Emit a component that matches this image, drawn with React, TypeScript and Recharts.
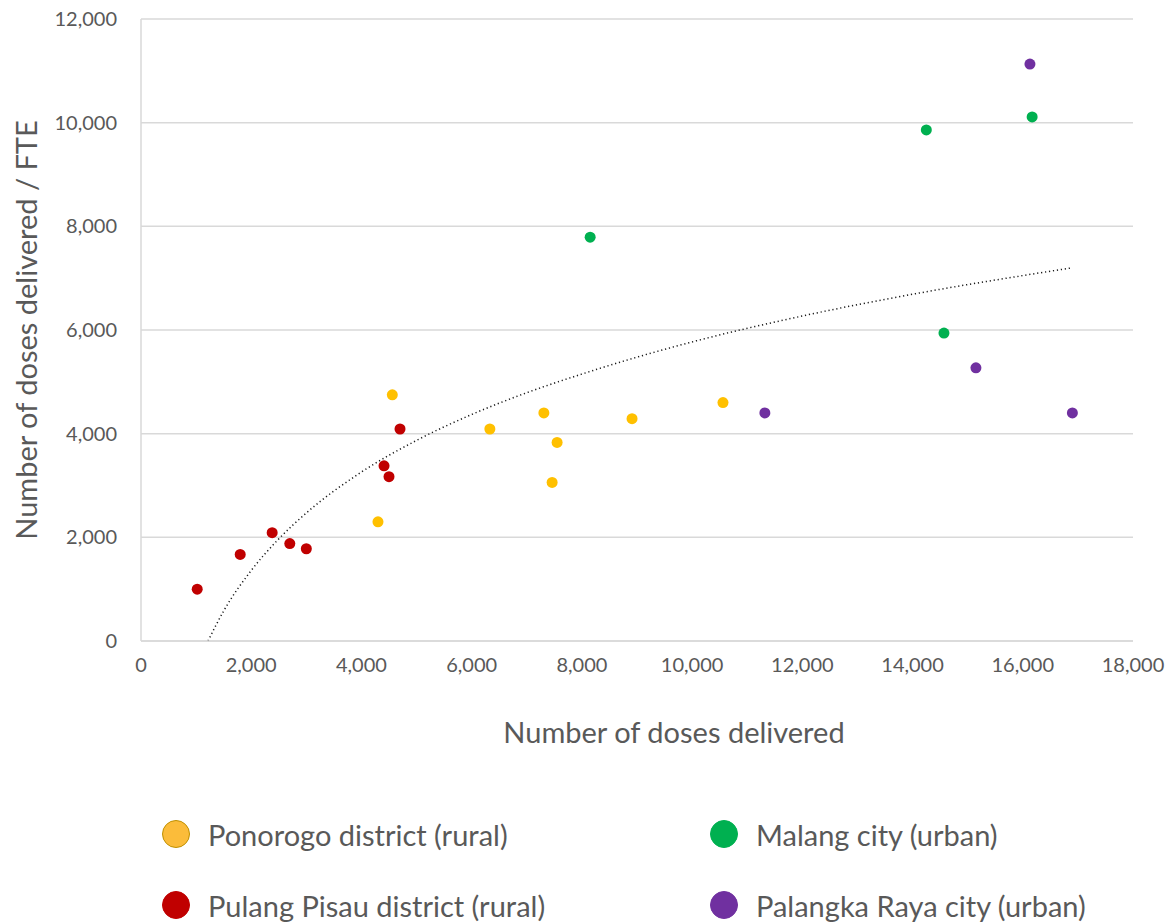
import {
  ComposedChart,
  CartesianGrid,
  Line,
  Scatter,
  XAxis,
  YAxis,
  Label,
} from "recharts";

const FONT = "Lato, 'Open Sans', sans-serif";
const TEXT = "#595959";

const xTicks = [0, 2000, 4000, 6000, 8000, 10000, 12000, 14000, 16000, 18000];
const yTicks = [0, 2000, 4000, 6000, 8000, 10000, 12000];

// doses delivered, doses delivered per FTE
const ponorogo = [
  { x: 4300, y: 2300 },
  { x: 4560, y: 4750 },
  { x: 6330, y: 4090 },
  { x: 7310, y: 4400 },
  { x: 7550, y: 3830 },
  { x: 7460, y: 3060 },
  { x: 8910, y: 4290 },
  { x: 10560, y: 4600 },
];

const pulangPisau = [
  { x: 1020, y: 1000 },
  { x: 1800, y: 1670 },
  { x: 2380, y: 2090 },
  { x: 2700, y: 1880 },
  { x: 3000, y: 1780 },
  { x: 4410, y: 3380 },
  { x: 4500, y: 3170 },
  { x: 4700, y: 4090 },
];

const malang = [
  { x: 8150, y: 7790 },
  { x: 14250, y: 9860 },
  { x: 16170, y: 10110 },
  { x: 14570, y: 5940 },
];

const palangkaRaya = [
  { x: 16130, y: 11130 },
  { x: 11320, y: 4400 },
  { x: 15150, y: 5270 },
  { x: 16900, y: 4400 },
];

// dotted trend line
const trend = [
  { x: 1216, y: 0 },
  { x: 1500, y: 580 },
  { x: 2000, y: 1360 },
  { x: 2500, y: 1970 },
  { x: 3000, y: 2470 },
  { x: 4000, y: 3260 },
  { x: 5000, y: 3870 },
  { x: 6000, y: 4370 },
  { x: 7000, y: 4790 },
  { x: 8000, y: 5150 },
  { x: 10000, y: 5770 },
  { x: 12000, y: 6270 },
  { x: 14000, y: 6690 },
  { x: 16000, y: 7050 },
  { x: 16900, y: 7200 },
];

const legendItems = [
  { name: "Ponorogo district (rural)", color: "#FBBC3A", border: "#BF9000", left: 162, top: 819 },
  { name: "Malang city (urban)", color: "#00B050", border: "#00B050", left: 710, top: 819 },
  { name: "Pulang Pisau district (rural)", color: "#C00000", border: "#C00000", left: 162, top: 890 },
  { name: "Palangka Raya city (urban)", color: "#7030A0", border: "#7030A0", left: 710, top: 890 },
];

const fmt = (v: number) => v.toLocaleString("en-US");

const dot = (color: string) => (p: any) => <circle cx={p.cx} cy={p.cy} r={5.5} fill={color} />;

export default function App() {
  return (
    <div style={{ position: "absolute", left: 0, top: 0, width: 1167, height: 923, background: "#fff", fontFamily: FONT, overflow: "hidden" }}>
      <ComposedChart
        width={1167}
        height={923}
        margin={{ top: 19, right: 34, bottom: 0, left: 0 }}
      >
        <CartesianGrid horizontal vertical={false} stroke="#D9D9D9" strokeWidth={1.5} />
        <XAxis
          type="number"
          dataKey="x"
          domain={[0, 18000]}
          ticks={xTicks}
          tickFormatter={fmt}
          height={282}
          tickSize={0}
          tickMargin={17}
          axisLine={{ stroke: "#D9D9D9", strokeWidth: 1.5 }}
          tick={{ fill: TEXT, fontSize: 20, fontFamily: FONT }}
          interval={0}
        >
          <Label
            value="Number of doses delivered"
            position="insideTop"
            dy={76}
            dx={37}
            style={{ fill: TEXT, fontSize: 29, fontFamily: FONT }}
          />
        </XAxis>
        <YAxis
          type="number"
          dataKey="y"
          domain={[0, 12000]}
          ticks={yTicks}
          tickFormatter={fmt}
          width={141}
          tickSize={0}
          tickMargin={24}
          axisLine={{ stroke: "#D9D9D9", strokeWidth: 1.5 }}
          tick={{ fill: TEXT, fontSize: 20, fontFamily: FONT }}
          interval={0}
        >
          <Label
            value="Number of doses delivered / FTE"
            angle={-90}
            position="insideLeft"
            dx={22}
            style={{ fill: TEXT, fontSize: 29, fontFamily: FONT, textAnchor: "middle" }}
          />
        </YAxis>
        <Line
          data={trend}
          dataKey="y"
          type="monotone"
          stroke="#1a1a1a"
          strokeWidth={1.5}
          strokeDasharray="1.2 2.8"
          dot={false}
          activeDot={false}
          isAnimationActive={false}
        />
        <Scatter data={ponorogo} fill="#FFC000" shape={dot("#FFC000")} isAnimationActive={false} />
        <Scatter data={pulangPisau} fill="#C00000" shape={dot("#C00000")} isAnimationActive={false} />
        <Scatter data={malang} fill="#00B050" shape={dot("#00B050")} isAnimationActive={false} />
        <Scatter data={palangkaRaya} fill="#7030A0" shape={dot("#7030A0")} isAnimationActive={false} />
      </ComposedChart>
      {legendItems.map((it) => (
        <div
          key={it.name}
          style={{ position: "absolute", left: it.left, top: it.top, display: "flex", alignItems: "center", height: 30 }}
        >
          <span
            style={{
              width: 28,
              height: 28,
              flex: "none",
              borderRadius: "50%",
              background: it.color,
              border: `1.5px solid ${it.border}`,
              boxSizing: "border-box",
              display: "inline-block",
            }}
          />
          <span style={{ marginLeft: 18, marginTop: 2, fontSize: 29, lineHeight: "30px", color: TEXT, whiteSpace: "nowrap" }}>{it.name}</span>
        </div>
      ))}
    </div>
  );
}
